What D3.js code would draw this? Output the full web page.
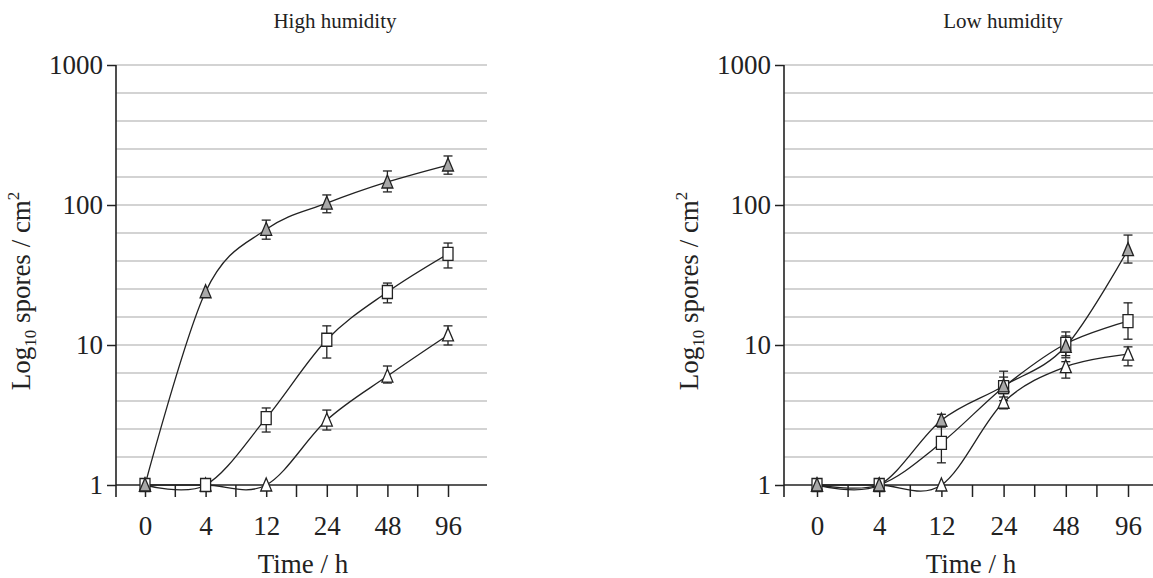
<!DOCTYPE html>
<html>
<head>
<meta charset="utf-8">
<script src="https://cdn.jsdelivr.net/npm/d3@7"></script>
<style>
  body { margin: 0; background: #fff; }
  svg { display: block; }
  svg text { font-family: "Liberation Serif", "Times New Roman", serif; }
</style>
</head>
<body>
<svg id="chart" width="1153" height="578"></svg>
<script>
// categories on the x axis (hours)
const times = ["0", "4", "12", "24", "48", "96"];
const yTicks = [1, 10, 100, 1000];

// high humidity panel
const highGrayTri = [1, 24, 67, 103, 146, 193];
const highGrayTriHi = [null, null, 78, 118, 175, 224];
const highGrayTriLo = [null, null, 57, 88, 124, 166];
const highSquare = [1, 1, 3.0, 10.9, 23.9, 44.7];
const highSquareHi = [null, null, 3.55, 13.7, 27.7, 53.5];
const highSquareLo = [null, null, 2.39, 8.07, 20, 35.5];
const highWhiteTri = [1, 1, 1, 2.91, 6.0, 11.8];
const highWhiteTriHi = [null, null, null, 3.43, 7.08, 13.7];
const highWhiteTriLo = [null, null, null, 2.47, 5.35, 10];

// low humidity panel
const lowGrayTri = [1, 1, 2.9, 5.1, 9.8, 48];
const lowGrayTriHi = [null, null, 3.2, 5.9, 11.6, 61];
const lowGrayTriLo = [null, null, 2.6, 4.5, 8.4, 38.5];
const lowSquare = [1, 1, 2.0, 5.0, 10.2, 14.8];
const lowSquareHi = [null, null, 2.6, 6.5, 12.4, 20];
const lowSquareLo = [null, null, 1.44, 4.0, 8.1, 11];
const lowWhiteTri = [1, 1, 1, 3.9, 7.0, 8.6];
const lowWhiteTriHi = [null, null, null, 4.25, 7.6, 9.7];
const lowWhiteTriLo = [null, null, null, 3.5, 5.8, 7.1];

const titles = ["High humidity", "Low humidity"];

// --------------------------------------------------------------------------------
const plotH = 420;
const grid = "#c4c4c4";
const ink = "#222";

const svg = d3.select("#chart");

const series = (vals, hi, lo, shape) => vals.map((v, i) => ({t: times[i], v, hi: hi[i], lo: lo[i], shape}));

const panels = [
  {
    left: 116, top: 65, width: 371, xr: [29, 332], title: titles[0],
    data: [
      series(highWhiteTri, highWhiteTriHi, highWhiteTriLo, "whiteTri"),
      series(highSquare, highSquareHi, highSquareLo, "square"),
      series(highGrayTri, highGrayTriHi, highGrayTriLo, "grayTri")
    ]
  },
  {
    left: 784, top: 65, width: 369, xr: [33, 344], title: titles[1],
    data: [
      series(lowWhiteTri, lowWhiteTriHi, lowWhiteTriLo, "whiteTri"),
      series(lowSquare, lowSquareHi, lowSquareLo, "square"),
      series(lowGrayTri, lowGrayTriHi, lowGrayTriLo, "grayTri")
    ]
  }
];

function drawPanel(p) {
  const g = svg.append("g").attr("transform", `translate(${p.left},${p.top})`);

  const x = d3.scalePoint().domain(times).range(p.xr);
  const y = d3.scaleLog().domain([1, 1000]).range([plotH, 0]);

  // gridlines every fifth of a decade
  const gridVals = d3.range(1, 16).map(k => Math.pow(10, k / 5));
  g.append("g")
    .selectAll("line")
    .data(gridVals)
    .join("line")
    .attr("x1", 0).attr("x2", p.width)
    .attr("y1", d => y(d)).attr("y2", d => y(d))
    .attr("stroke", grid)
    .attr("stroke-width", 1.6);

  // y axis
  const ya = g.append("g")
    .call(d3.axisLeft(y).tickValues(yTicks).tickFormat(d3.format("d")).tickSize(9).tickSizeOuter(0))
    .attr("font-family", null)
    .attr("font-size", 27);
  ya.select(".domain").remove();
  ya.selectAll(".tick line").attr("stroke", ink).attr("stroke-width", 1.5);
  ya.selectAll(".tick text")
    .attr("fill", ink)
    .attr("x", -13).attr("dy", "0.33em");
  g.append("line")
    .attr("x1", 0).attr("x2", 0).attr("y1", 0).attr("y2", plotH + 12)
    .attr("stroke", ink).attr("stroke-width", 1.6);

  // x axis
  const xa = g.append("g")
    .attr("transform", `translate(0,${plotH})`)
    .call(d3.axisBottom(x).tickSize(12).tickSizeOuter(0))
    .attr("font-family", null)
    .attr("font-size", 27);
  xa.select(".domain").remove();
  xa.selectAll(".tick line").attr("stroke", ink).attr("stroke-width", 1.5);
  xa.selectAll(".tick text")
    .attr("fill", ink)
    .attr("y", 31).attr("dy", "0.71em");
  const mids = d3.pairs(times).map(([a, b]) => (x(a) + x(b)) / 2);
  xa.selectAll(".minor")
    .data(mids)
    .join("line")
    .attr("class", "minor")
    .attr("x1", d => d).attr("x2", d => d)
    .attr("y1", 0).attr("y2", 12)
    .attr("stroke", ink).attr("stroke-width", 1.5);
  g.append("line")
    .attr("x1", 0).attr("x2", p.width).attr("y1", plotH).attr("y2", plotH)
    .attr("stroke", ink).attr("stroke-width", 1.6);

  // titles
  g.append("text")
    .attr("x", 219).attr("y", -37)
    .attr("text-anchor", "middle")
    .attr("font-size", 21).attr("fill", ink)
    .text(p.title);

  g.append("text")
    .attr("x", 187).attr("y", plotH + 88)
    .attr("text-anchor", "middle")
    .attr("font-size", 27).attr("fill", ink)
    .text("Time / h");

  const yl = g.append("text")
    .attr("transform", `translate(-86,${226}) rotate(-90)`)
    .attr("text-anchor", "middle")
    .attr("font-size", 27).attr("fill", ink);
  yl.append("tspan").text("Log");
  yl.append("tspan").attr("font-size", 17).attr("dy", 6).text("10");
  yl.append("tspan").attr("dy", -6).text(" spores / cm");
  yl.append("tspan").attr("font-size", 17).attr("dy", -11).text("2");

  // lines
  const line = d3.line()
    .x(d => x(d.t))
    .y(d => y(d.v))
    .curve(d3.curveCardinal.tension(0));

  g.append("g")
    .selectAll("path")
    .data(p.data)
    .join("path")
    .attr("d", line)
    .attr("fill", "none")
    .attr("stroke", ink)
    .attr("stroke-width", 1.3);

  const pts = p.data.flat();

  // error bars
  const eb = g.append("g")
    .attr("stroke", ink)
    .attr("stroke-width", 1.3)
    .selectAll("g")
    .data(pts.filter(d => d.hi != null))
    .join("g")
    .attr("transform", d => `translate(${x(d.t)},0)`);
  eb.append("line")
    .attr("y1", d => y(d.hi)).attr("y2", d => y(d.lo));
  eb.append("line")
    .attr("x1", -4.5).attr("x2", 4.5)
    .attr("y1", d => y(d.hi)).attr("y2", d => y(d.hi));
  eb.append("line")
    .attr("x1", -4.5).attr("x2", 4.5)
    .attr("y1", d => y(d.lo)).attr("y2", d => y(d.lo));

  // markers
  const shapePath = {
    square: "M-5,-6.5H5V6.5H-5Z",
    grayTri: "M0,-7L5.5,6H-5.5Z",
    whiteTri: "M0,-7L5.5,6H-5.5Z"
  };
  const shapeFill = { square: "#fff", grayTri: "#a8a8a8", whiteTri: "#fff" };

  g.append("g")
    .selectAll("path")
    .data(pts)
    .join("path")
    .attr("transform", d => `translate(${x(d.t)},${y(d.v)})`)
    .attr("d", d => shapePath[d.shape])
    .attr("fill", d => shapeFill[d.shape])
    .attr("stroke", ink)
    .attr("stroke-width", 1.3);
}

panels.forEach(drawPanel);
</script>
</body>
</html>
